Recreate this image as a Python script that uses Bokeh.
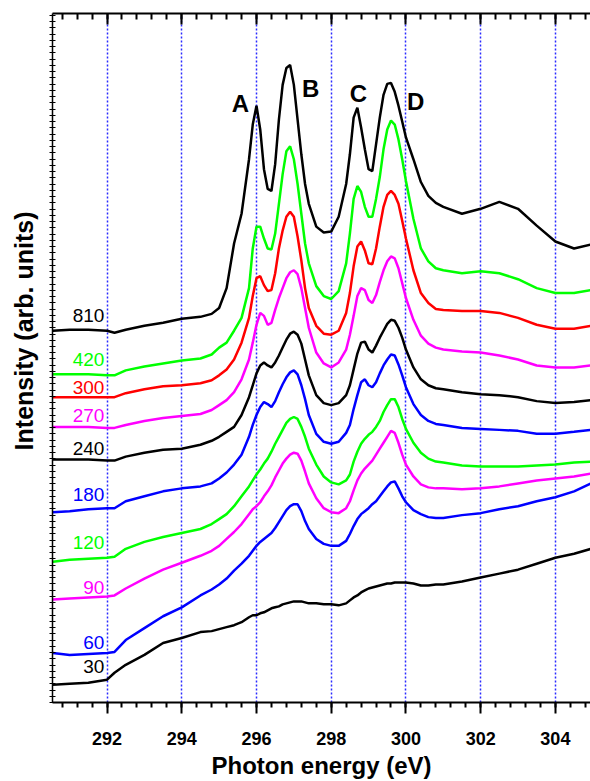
from bokeh.plotting import figure
from bokeh.models import (Range1d, LinearAxis, FixedTicker, ColumnDataSource,
                          CustomJSTickFormatter, Title)
from bokeh.core.properties import value
from bokeh.embed import file_html
from bokeh.resources import INLINE
import numpy as np

# Photon energy grid (eV)
energy = [290.55, 291.0, 291.5, 292.0, 292.2, 292.5, 293.0, 293.5, 294.0, 294.5,
          294.8, 295.0, 295.2, 295.4, 295.6, 295.8, 295.9, 296.0, 296.1, 296.2,
          296.3, 296.4, 296.5, 296.6, 296.7, 296.8, 296.9, 297.0, 297.1, 297.2,
          297.3, 297.4, 297.6, 297.8, 298.0, 298.2, 298.4, 298.5, 298.6, 298.7,
          298.8, 298.9, 299.0, 299.1, 299.2, 299.3, 299.4, 299.5, 299.6, 299.7,
          299.8, 299.9, 300.0, 300.2, 300.4, 300.6, 300.8, 301.0, 301.5, 302.0,
          302.5, 303.0, 303.5, 304.0, 304.5, 304.95]

# Offset intensities (arb. units) for each spectrum
s810 = [375, 376, 376, 375, 373, 376, 380, 383, 387, 389,
        392, 398, 418, 463, 493, 548, 583, 602, 578, 538,
        518, 516, 543, 588, 623, 640, 643, 623, 588, 553,
        523, 503, 480, 474, 475, 490, 523, 553, 590, 600,
        580, 558, 538, 536, 563, 590, 613, 624, 625, 616,
        602, 586, 570, 548, 525, 511, 504, 500, 493, 498,
        505, 498, 481, 465, 458, 462]
s420 = [331, 331, 331, 330, 330, 335, 339, 342, 345, 347,
        351, 358, 363, 375, 388, 418, 458, 480, 480, 468,
        458, 457, 473, 503, 533, 556, 561, 548, 523, 493,
        463, 443, 420, 410, 407, 415, 443, 473, 508, 521,
        515, 500, 490, 490, 508, 530, 558, 578, 587, 583,
        568, 548, 526, 488, 458, 445, 438, 436, 433, 435,
        433, 427, 418, 413, 413, 416]
s300 = [308, 308, 308, 308, 308, 312, 316, 319, 320, 322,
        325, 330, 336, 346, 363, 388, 410, 428, 430, 421,
        415, 416, 433, 458, 476, 490, 495, 490, 470, 446,
        418, 398, 380, 372, 371, 375, 393, 413, 440, 460,
        465, 456, 443, 442, 458, 480, 500, 512, 516, 512,
        503, 486, 468, 436, 413, 403, 397, 396, 395, 395,
        393, 388, 381, 377, 377, 380]
s270 = [278, 278, 278, 277, 277, 280, 284, 287, 289, 291,
        295, 300, 305, 313, 326, 346, 363, 381, 393, 390,
        381, 383, 396, 408, 418, 428, 434, 436, 432, 418,
        398, 378, 353, 342, 338, 343, 356, 371, 390, 410,
        418, 416, 406, 403, 411, 424, 436, 445, 450, 448,
        438, 423, 408, 386, 370, 362, 358, 356, 354, 353,
        350, 346, 340, 338, 338, 340]
s240 = [245, 245, 245, 244, 244, 248, 252, 255, 256, 260,
        264, 268, 273, 278, 290, 308, 320, 332, 340, 343,
        340, 338, 343, 350, 358, 366, 372, 374, 371, 362,
        346, 330, 310, 302, 300, 302, 310, 320, 336, 352,
        363, 364, 356, 353, 360, 368, 375, 382, 386, 385,
        378, 368, 356, 338, 326, 320, 317, 316, 313, 311,
        310, 308, 304, 302, 303, 305]
s180 = [192, 193, 195, 196, 196, 203, 208, 213, 216, 218,
        221, 226, 232, 240, 250, 268, 280, 290, 298, 303,
        301, 298, 304, 313, 321, 328, 333, 335, 331, 320,
        306, 290, 271, 263, 261, 263, 272, 280, 296, 310,
        323, 326, 320, 318, 323, 332, 340, 346, 351, 350,
        341, 330, 318, 301, 290, 284, 281, 280, 277, 276,
        275, 274, 271, 271, 273, 275]
s120 = [142, 144, 145, 146, 147, 155, 162, 167, 171, 175,
        180, 185, 190, 198, 208, 218, 224, 230, 235, 241,
        246, 253, 261, 268, 275, 282, 286, 288, 286, 278,
        268, 256, 240, 228, 222, 220, 224, 230, 243, 253,
        261, 266, 270, 273, 278, 284, 293, 300, 306, 306,
        298, 286, 276, 262, 252, 246, 243, 242, 239, 238,
        238, 238, 239, 240, 242, 243]
s90 = [104, 105, 106, 107, 108, 115, 125, 134, 141, 148,
       153, 158, 165, 172, 180, 190, 195, 198, 202, 208,
       213, 219, 227, 234, 241, 246, 250, 252, 251, 244,
       233, 221, 206, 196, 192, 191, 196, 203, 214, 224,
       231, 236, 240, 244, 250, 256, 262, 268, 274, 272,
       262, 250, 240, 228, 220, 217, 216, 216, 215, 216,
       218, 221, 224, 226, 228, 231]
s60 = [50, 48, 49, 50, 51, 63, 75, 87, 96, 108,
       114, 119, 125, 133, 140, 148, 153, 158, 162, 165,
       168, 171, 176, 182, 188, 194, 198, 200, 200, 193,
       183, 175, 165, 160, 158, 158, 163, 170, 178, 185,
       190, 193, 196, 200, 203, 208, 213, 218, 222, 223,
       216, 208, 202, 194, 190, 187, 186, 186, 189, 191,
       195, 198, 203, 207, 213, 221]
s30 = [18, 19, 20, 23, 30, 38, 48, 60, 65, 71,
       72, 74, 76, 78, 81, 86, 88, 88, 90, 91,
       93, 95, 96, 97, 99, 100, 101, 102, 102, 102,
       101, 100, 100, 99, 99, 98, 100, 103, 106, 108,
       111, 113, 115, 116, 117, 118, 119, 120, 120, 121,
       121, 121, 121, 120, 118, 118, 119, 119, 122, 126,
       130, 134, 140, 146, 150, 155]

series_names = ["810", "420", "300", "270", "240", "180", "120", "90", "60", "30"]
series_values = [s810, s420, s300, s270, s240, s180, s120, s90, s60, s30]
series_colors = ["#000000", "#00ff00", "#ff0000", "#ff00ff", "#000000",
                 "#0000ff", "#00ff00", "#ff00ff", "#0000ff", "#000000"]
label_levels = [390, 346, 318, 290, 256, 210, 161, 116, 61, 36]
label_energy = 291.93

peak_names = ["A", "B", "C", "D"]
peak_energy = [295.57, 297.45, 298.73, 300.26]
peak_level = [604, 619, 614, 606]

major_ticks = [292, 294, 296, 298, 300, 302, 304]
minor_ticks = [round(290.8 + 0.4 * i, 2) for i in range(36)]

FONT = "Liberation Sans"
blank = CustomJSTickFormatter(code="return '';")

p = figure(width=590, height=781, output_backend="svg", toolbar_location=None,
           x_range=Range1d(290.54, 304.94), y_range=Range1d(0, 695),
           min_border_left=52, min_border_right=0, min_border_top=13,
           min_border_bottom=60)
p.outline_line_color = None
p.background_fill_color = "white"
p.border_fill_color = "white"

# x axis (bottom)
xa = p.xaxis[0]
xa.ticker = FixedTicker(ticks=major_ticks, minor_ticks=minor_ticks)
xa.axis_label = "Photon energy (eV)"
xa.axis_label_text_font = FONT
xa.axis_label_text_font_style = "bold"
xa.axis_label_text_font_size = "24px"
xa.axis_label_text_color = "#000000"
xa.axis_label_standoff = 4
xa.major_label_text_font = FONT
xa.major_label_text_font_style = "bold"
xa.major_label_text_font_size = "18px"
xa.major_label_text_color = "#000000"
xa.major_label_standoff = 18
xa.major_tick_in = 0
xa.major_tick_out = 11
xa.minor_tick_in = 0
xa.minor_tick_out = 5
xa.axis_line_width = 2
xa.major_tick_line_width = 2
xa.minor_tick_line_width = 2

# y axis (left)
ya = p.yaxis[0]
ya.ticker = FixedTicker(ticks=list(np.arange(0, 695, 6.3)))
ya.formatter = blank
ya.major_label_standoff = 0
ya.major_tick_in = 3
ya.major_tick_out = 3
ya.minor_tick_line_color = None
ya.axis_line_width = 1.5
ya.major_tick_line_width = 1

ytitle = Title(text="Intensity (arb. units)", align="right", offset=198,
               vertical_align="top", standoff=19, text_font=FONT,
               text_font_style="bold", text_font_size="25px", text_color="#000000")
p.add_layout(ytitle, "left")

# top axis
ta = LinearAxis(ticker=FixedTicker(ticks=major_ticks, minor_ticks=minor_ticks),
                formatter=blank)
ta.major_label_standoff = 0
ta.major_tick_in = 11
ta.major_tick_out = 0
ta.minor_tick_in = 6
ta.minor_tick_out = 0
ta.axis_line_width = 2
ta.major_tick_line_width = 2
ta.minor_tick_line_width = 2
p.add_layout(ta, "above")

# grid
p.xgrid.ticker = FixedTicker(ticks=major_ticks)
p.xgrid.grid_line_color = "#2a2aff"
p.xgrid.grid_line_dash = "2 2"
p.xgrid.grid_line_width = 1.5
p.xgrid.grid_line_alpha = 1.0
p.ygrid.grid_line_color = None

# spectra (bottom to top)
for name, vals, col in reversed(list(zip(series_names, series_values, series_colors))):
    p.line(energy, vals, line_color=col, line_width=2.5)

lab_src = ColumnDataSource(dict(x=[label_energy] * len(series_names), y=label_levels,
                                text=series_names, color=series_colors))
p.text(x="x", y="y", text="text", text_color="color", source=lab_src,
       text_align="right", text_baseline="middle", text_font=value(FONT),
       text_font_size="19px")

peak_src = ColumnDataSource(dict(x=peak_energy, y=peak_level, text=peak_names))
p.text(x="x", y="y", text="text", source=peak_src, text_color="#000000",
       text_align="center", text_baseline="middle", text_font=value(FONT),
       text_font_size="24px", text_font_style="bold")

open("out.html", "w").write(file_html(p, INLINE))
